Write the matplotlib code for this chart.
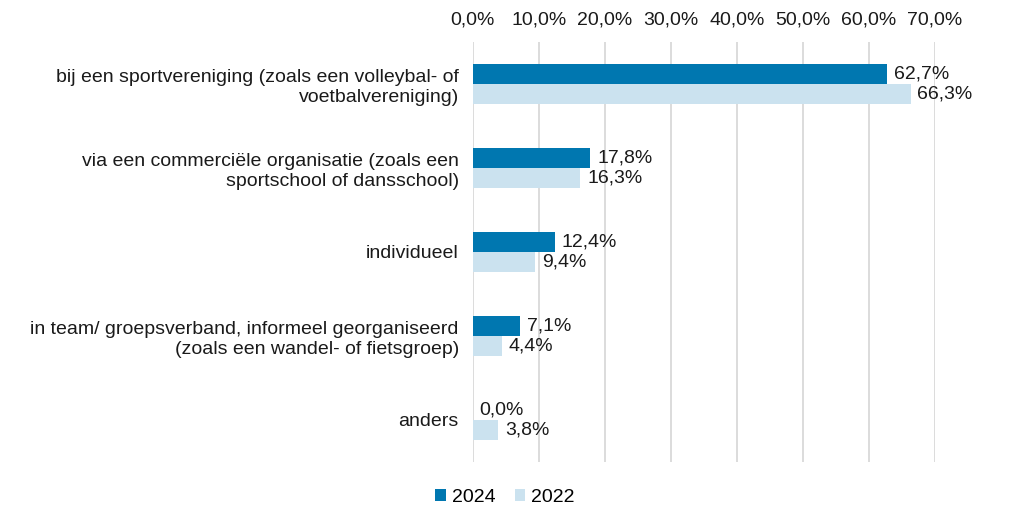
import matplotlib
matplotlib.use("Agg")
import numpy as np
import matplotlib.pyplot as plt
from matplotlib.ticker import FuncFormatter

plt.rcParams['font.family'] = ['Liberation Sans', 'DejaVu Sans']

categories = [
    "bij een sportvereniging (zoals een volleybal- of\nvoetbalvereniging)",
    "via een commerciële organisatie (zoals een\nsportschool of dansschool)",
    "individueel",
    "in team/ groepsverband, informeel georganiseerd\n(zoals een wandel- of fietsgroep)",
    "anders",
]
v2024 = [62.7, 17.8, 12.4, 7.1, 0.0]
v2022 = [66.3, 16.3, 9.4, 4.4, 3.8]

c2024 = "#0077b0"
c2022 = "#cbe2ef"
txt = "#1a1a1a"
fs = 14

fig = plt.figure(figsize=(10.1, 5.08), dpi=100)
ax = fig.add_axes([0.468, 0.0906, 0.4577, 0.8268])

y = np.arange(len(categories))
h = 0.235
b1 = ax.barh(y - h / 2, v2024, height=h, color=c2024, label="2024", zorder=2)
b2 = ax.barh(y + h / 2, v2022, height=h, color=c2022, label="2022", zorder=2)

def pct(v):
    return f"{v:.1f}%".replace(".", ",")

for bars, vals in ((b1, v2024), (b2, v2022)):
    for bar, v in zip(bars, vals):
        ax.annotate(pct(v), (v, bar.get_y() + bar.get_height() / 2),
                    xytext=(5, 0), textcoords="offset points",
                    va="center", ha="left", fontsize=fs, color=txt)

ax.set_xlim(0, 70)
ax.set_ylim(len(categories) - 0.5, -0.5)
ax.set_xticks(np.arange(0, 71, 10))
ax.xaxis.set_major_formatter(FuncFormatter(lambda v, p: pct(v)))
ax.xaxis.tick_top()
ax.set_yticks(y)
ax.set_yticklabels(categories, fontsize=fs, color=txt)
ax.tick_params(axis="x", labelsize=fs, colors=txt, length=0, pad=10)
ax.tick_params(axis="y", length=0, pad=10)
ax.grid(axis="x", color="#d9d9d9", linewidth=1.3, zorder=0)
for s in ax.spines.values():
    s.set_visible(False)

fig.legend(handles=[b1, b2], loc="lower center", bbox_to_anchor=(0.5, -0.03), ncol=2,
           frameon=False, fontsize=fs, handlelength=0.55, handleheight=0.55,
           handletextpad=0.3, columnspacing=1.0)

fig.savefig("out.png", dpi=100)
